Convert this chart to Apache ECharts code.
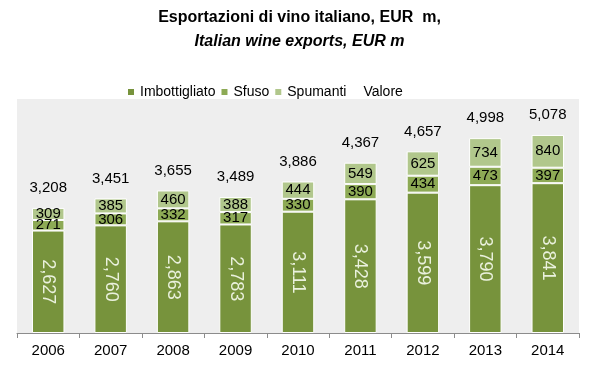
<!DOCTYPE html>
<html><head><meta charset="utf-8">
<script src="https://cdn.jsdelivr.net/npm/echarts@6/dist/echarts.min.js"></script>
<style>html,body{margin:0;padding:0;background:#fff}#c{width:599px;height:380px}</style>
</head><body><div id="c"></div>
<script>
var years = ['2006','2007','2008','2009','2010','2011','2012','2013','2014'];
var imbottigliato = [2627, 2760, 2863, 2783, 3111, 3428, 3599, 3790, 3841];
var sfuso = [271, 306, 332, 317, 330, 390, 434, 473, 397];
var spumanti = [309, 385, 460, 388, 444, 549, 625, 734, 840];
var valore = [3208, 3451, 3655, 3489, 3886, 4367, 4657, 4998, 5078];

function fmt(v){ return Number(v).toLocaleString('en-US'); }
var chart = echarts.init(document.getElementById('c'), null, {renderer:'canvas'});
var barBase = {type:'bar', stack:'t', barWidth:'52%'};
chart.setOption({
  animation:false,
  title:[{text:'Esportazioni di vino italiano, EUR  m,', left:'center', top:5,
          textStyle:{fontFamily:'Liberation Sans', fontWeight:'bold', fontSize:16, color:'#000'}},
         {text:'Italian wine exports, EUR m', left:'center', top:29,
          textStyle:{fontFamily:'Liberation Sans', fontWeight:'bold', fontStyle:'italic', fontSize:16, color:'#000'}}],
  legend:{top:80, left:121, itemWidth:8, itemHeight:8, itemGap:4,
    textStyle:{fontFamily:'Liberation Sans', fontSize:14, color:'#000'},
    data:[{name:'Imbottigliato', icon:'rect'},{name:'Sfuso', icon:'rect'},{name:'Spumanti', icon:'rect'},
          {name:'Valore', icon:'rect', itemStyle:{color:'rgba(0,0,0,0)'}}]},
  grid:{left:17, right:20, top:99, bottom:47, show:true, backgroundColor:'#EEEEEE', borderWidth:0},
  xAxis:{type:'category', data:years,
    axisLine:{lineStyle:{color:'#8c8c8c'}}, axisTick:{show:true, length:5, lineStyle:{color:'#8c8c8c'}},
    axisLabel:{fontFamily:'Liberation Sans', fontSize:15, color:'#000', margin:10}},
  yAxis:{type:'value', min:0, max:6000, interval:1000, show:false, splitLine:{show:false}},
  series:[
    Object.assign({}, barBase, {name:'Imbottigliato', data:imbottigliato,
      itemStyle:{color:'#77933C', borderColor:'#fff', borderWidth:1},
      label:{show:true, position:'inside', rotate:-90, fontFamily:'Liberation Sans', fontSize:18, color:'#EAF1DD',
        formatter:function(p){return fmt(p.value);}}}),
    Object.assign({}, barBase, {name:'Sfuso', data:sfuso,
      itemStyle:{color:'#8DAA55', borderColor:'#fff', borderWidth:1},
      label:{show:true, position:'inside', fontFamily:'Liberation Sans', fontSize:15, color:'#000',
        formatter:function(p){return fmt(p.value);}}}),
    Object.assign({}, barBase, {name:'Spumanti', data:spumanti,
      itemStyle:{color:'#B1C78C', borderColor:'#fff', borderWidth:1},
      label:{show:true, position:'inside', fontFamily:'Liberation Sans', fontSize:15, color:'#000',
        formatter:function(p){return fmt(p.value);}}}),
    {name:'Valore', type:'line', data:valore, symbol:'circle', symbolSize:1, showSymbol:true,
      lineStyle:{width:0, opacity:0}, itemStyle:{color:'rgba(0,0,0,0)'},
      label:{show:true, position:'top', distance:12, fontFamily:'Liberation Sans', fontSize:15, color:'#000',
        formatter:function(p){return fmt(p.value);}}}
  ]
});
</script></body></html>
